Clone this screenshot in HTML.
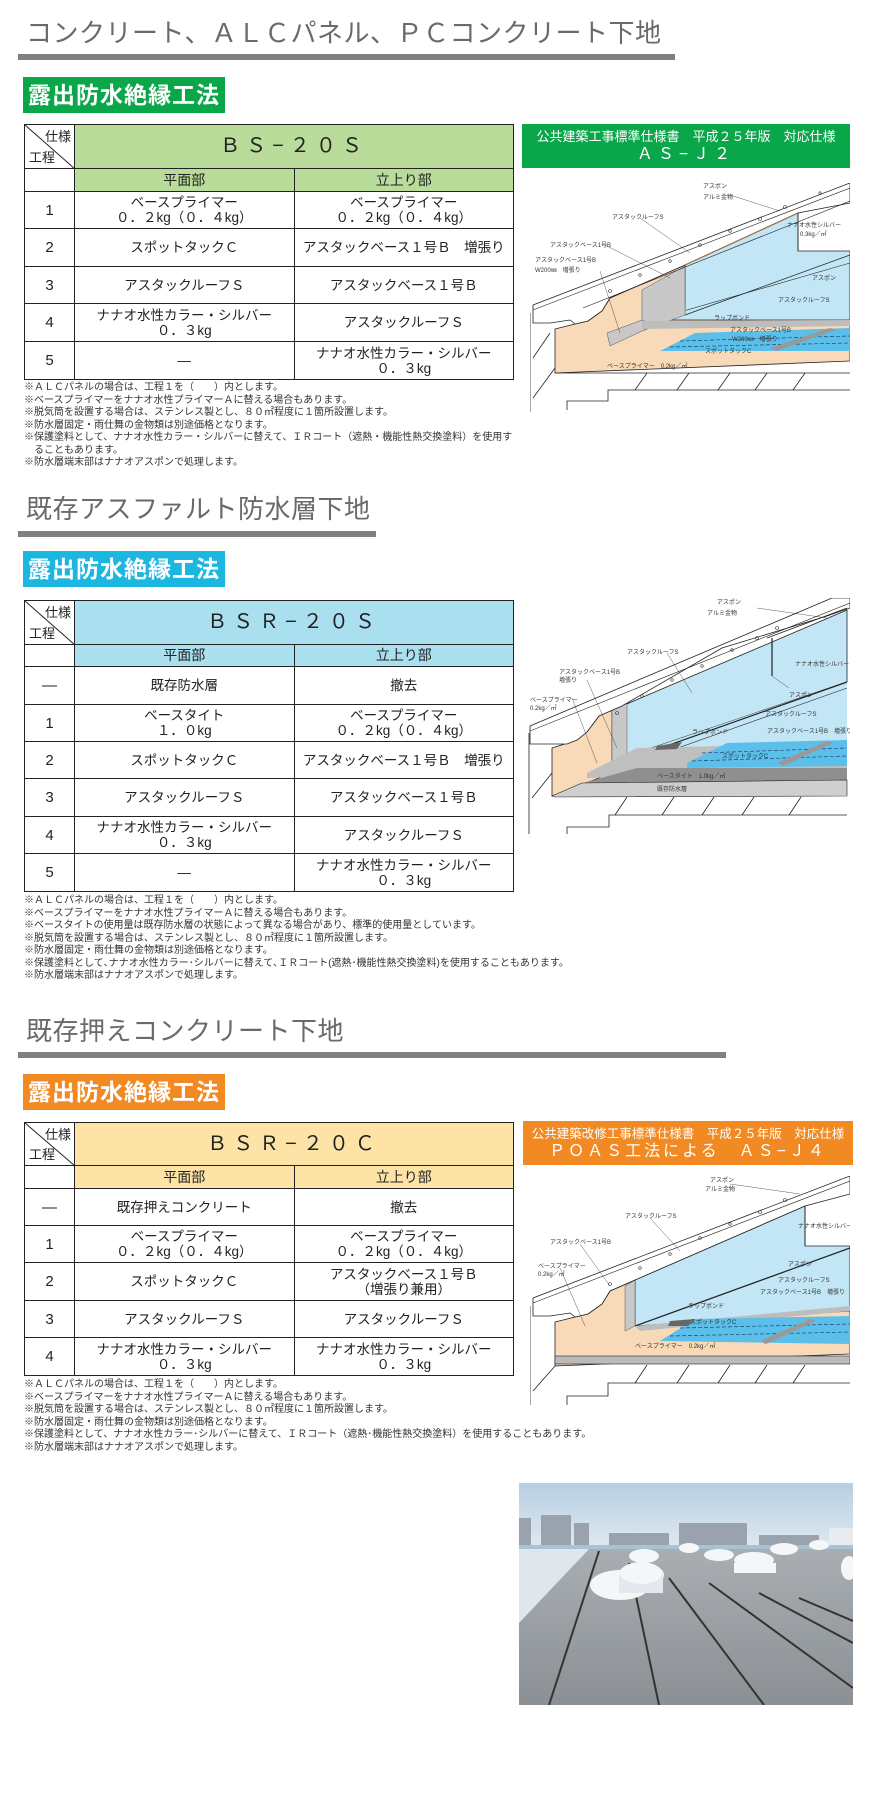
<!DOCTYPE html>
<html><head><meta charset="utf-8">
<style>
*{margin:0;padding:0;box-sizing:border-box}
body{width:880px;height:1800px;background:#fff;position:relative;font-family:"Liberation Sans","Noto Sans CJK JP",sans-serif;color:#222;overflow:hidden}
.ttl{position:absolute;left:26px;font-size:26px;color:#6a6a6a;letter-spacing:0.5px;white-space:nowrap;line-height:30px}
.bar{position:absolute;left:18px;height:6px;background:#808080}
.lbl{position:absolute;left:23px;width:202px;height:36px;color:#fff;font-weight:bold;font-size:23px;line-height:36px;text-align:center;letter-spacing:1px}
table{position:absolute;left:24px;width:490px;border-collapse:collapse;table-layout:fixed}
td{border:1.5px solid #222;text-align:center;font-size:13.5px;line-height:15px;padding:0;position:relative}
td.c0{width:50px;font-size:15px}
.hd{font-size:20px;letter-spacing:6px}
.sub{font-size:14px}
.corner{padding:0}
.corner svg{position:absolute;left:0;top:0}
.corner .a{position:absolute;right:3px;top:4px;font-size:13px}
.corner .b{position:absolute;left:4px;bottom:3px;font-size:13px}
.notes{position:absolute;left:24px;font-size:10px;line-height:12.5px;color:#333;white-space:nowrap}
.box{position:absolute;color:#fff;text-align:center;font-size:13px;line-height:18px;padding-top:4px}
.box b{font-weight:normal;font-size:16px;letter-spacing:5px}
.dg{position:absolute}
.dg text{font-family:"Liberation Sans","Noto Sans CJK JP",sans-serif;font-size:6px;fill:#333}
</style></head><body>

<!-- Section 1 -->
<div class="ttl" style="top:18px">コンクリート、ＡＬＣパネル、ＰＣコンクリート下地</div>
<div class="bar" style="top:54px;width:657px"></div>
<div class="lbl" style="top:77px;background:#0aa64a">露出防水絶縁工法</div>
<table style="top:124px">
<tr style="height:44px"><td class="c0 corner"><svg width="50" height="44"><line x1="0" y1="0" x2="50" y2="44" stroke="#222" stroke-width="1"/></svg><span class="a">仕様</span><span class="b">工程</span></td><td colspan="2" class="hd" style="background:#b9dc9a">ＢＳ−２０Ｓ</td></tr>
<tr style="height:23px"><td class="c0"></td><td class="sub" style="background:#b9dc9a">平面部</td><td class="sub" style="background:#b9dc9a">立上り部</td></tr>
<tr style="height:37px"><td class="c0">1</td><td>ベースプライマー<br>０．２kg（０．４kg）</td><td>ベースプライマー<br>０．２kg（０．４kg）</td></tr>
<tr style="height:38px"><td class="c0">2</td><td>スポットタックＣ</td><td>アスタックベース１号Ｂ　増張り</td></tr>
<tr style="height:37px"><td class="c0">3</td><td>アスタックルーフＳ</td><td>アスタックベース１号Ｂ</td></tr>
<tr style="height:38px"><td class="c0">4</td><td>ナナオ水性カラー・シルバー<br>０．３kg</td><td>アスタックルーフＳ</td></tr>
<tr style="height:38px"><td class="c0">5</td><td>—</td><td>ナナオ水性カラー・シルバー<br>０．３kg</td></tr>
</table>
<div class="notes" style="top:382px">※ＡＬＣパネルの場合は、工程１を（　　）内とします。<br>※ベースプライマーをナナオ水性プライマーＡに替える場合もあります。<br>※脱気筒を設置する場合は、ステンレス製とし、８０㎡程度に１箇所設置します。<br>※防水層固定・雨仕舞の金物類は別途価格となります。<br>※保護塗料として、ナナオ水性カラー・シルバーに替えて、ＩＲコート（遮熱・機能性熱交換塗料）を使用す<br>　ることもあります。<br>※防水層端末部はナナオアスポンで処理します。</div>
<div class="box" style="left:522px;top:124px;width:328px;height:44px;background:#0aa64a">公共建築工事標準仕様書　平成２５年版　対応仕様<br><b>ＡＳ−Ｊ２</b></div>

<svg class="dg" style="left:530px;top:183px" width="320" height="232" viewBox="0 0 320 232">
<polygon points="25,146 45,141 58,138 72,128 80,115 155,82 155,132 320,72 320,178 25,190" fill="#f8d9b8" stroke="#222" stroke-width="0.8"/>
<polygon points="155,82 268,30 268,68 320,68 320,137 122,137 155,125" fill="#c3e6f6" stroke="#222" stroke-width="0.8"/>
<line x1="155" y1="132" x2="320" y2="72" stroke="#222" stroke-width="0.8"/>
<line x1="112" y1="140" x2="320" y2="80" stroke="#222" stroke-width="0.6"/>
<polygon points="112,107 155,83 155,132 112,148" fill="#c8c8c8" stroke="#555" stroke-width="0.5"/>
<polygon points="77,150 112,137 125,142 80,163" fill="#c8c8c8" stroke="#555" stroke-width="0.5"/>
<polygon points="112,138 320,137 320,143 112,146" fill="#bdbdbd"/>
<polygon points="130,168 165,150 320,145 320,168" fill="#5bbfe9"/>
<g stroke="#1a4a7a" stroke-width="0.7" stroke-dasharray="4,2"><line x1="150" y1="158" x2="320" y2="153"/><line x1="140" y1="164" x2="320" y2="160"/></g>
<polygon points="240,165 300,145 306,147 246,168" fill="#999"/>
<polygon points="150,67 175,66 168,72" fill="#666"/>
<polygon points="3,122 320,0 320,20 268,30 155,82 80,115 72,128 58,138 45,141 40,137 20,140 3,140" fill="#fff" stroke="#222" stroke-width="0.8"/>
<line x1="3" y1="127" x2="320" y2="5" stroke="#222" stroke-width="0.6"/>
<line x1="53" y1="125" x2="320" y2="18" stroke="#222" stroke-width="0.6"/>
<line x1="155" y1="82" x2="268" y2="30" stroke="#a07040" stroke-width="1.2"/>
<g fill="none" stroke="#333" stroke-width="0.6"><circle cx="80" cy="108" r="1.5"/><circle cx="110" cy="92" r="1.3"/><circle cx="140" cy="78" r="1.3"/><circle cx="170" cy="62" r="1.3"/><circle cx="200" cy="48" r="1.3"/><circle cx="230" cy="36" r="1.5"/><circle cx="255" cy="24" r="1.5"/><circle cx="290" cy="10" r="1.2"/></g>
<line x1="268" y1="30" x2="268" y2="68" stroke="#222" stroke-width="0.8"/>
<g stroke="#222" stroke-width="0.8"><line x1="25" y1="190" x2="320" y2="190"/><polyline fill="none" points="320,207 78,207 78,218 37,218 37,227"/><line x1="105" y1="207" x2="117" y2="190"/><line x1="147" y1="207" x2="159" y2="190"/><line x1="188" y1="207" x2="200" y2="190"/><line x1="225" y1="207" x2="237" y2="190"/><line x1="263" y1="207" x2="275" y2="190"/><line x1="0" y1="130" x2="0" y2="229"/><line x1="3" y1="175" x2="20" y2="150"/><line x1="3" y1="215" x2="25" y2="185"/></g>
<g stroke="#333" stroke-width="0.4"><line x1="110" y1="35" x2="160" y2="70"/><line x1="75" y1="62" x2="140" y2="95"/><line x1="70" y1="88" x2="90" y2="150"/><line x1="200" y1="12" x2="250" y2="28"/></g>
<text x="173" y="5">アスポン</text><text x="173" y="16">アルミ金物</text>
<text x="82" y="36">アスタックルーフS</text><text x="20" y="64">アスタックベース1号B</text>
<text x="5" y="79">アスタックベース1号B</text><text x="5" y="89">W200㎜　増張り</text>
<text x="257" y="44">ナナオ水性シルバー</text><text x="270" y="53">0.3kg／㎡</text>
<text x="282" y="97">アスポン</text><text x="248" y="119">アスタックルーフS</text>
<text x="184" y="137">ラップボンド</text><text x="200" y="149">アスタックベース1号B</text><text x="202" y="158">W200㎜　増張り</text><text x="175" y="170">スポットタックC</text>
<text x="77" y="185">ベースプライマー　0.2kg／㎡</text>
</svg>

<!-- Section 2 -->
<div class="ttl" style="top:494px">既存アスファルト防水層下地</div>
<div class="bar" style="top:531px;width:358px"></div>
<div class="lbl" style="top:551px;background:#1cb7e0">露出防水絶縁工法</div>
<table style="top:600px">
<tr style="height:44px"><td class="c0 corner"><svg width="50" height="44"><line x1="0" y1="0" x2="50" y2="44" stroke="#222" stroke-width="1"/></svg><span class="a">仕様</span><span class="b">工程</span></td><td colspan="2" class="hd" style="background:#a9dfef">ＢＳＲ−２０Ｓ</td></tr>
<tr style="height:22px"><td class="c0"></td><td class="sub" style="background:#a9dfef">平面部</td><td class="sub" style="background:#a9dfef">立上り部</td></tr>
<tr style="height:38px"><td class="c0">—</td><td>既存防水層</td><td>撤去</td></tr>
<tr style="height:37px"><td class="c0">1</td><td>ベースタイト<br>１．０kg</td><td>ベースプライマー<br>０．２kg（０．４kg）</td></tr>
<tr style="height:37px"><td class="c0">2</td><td>スポットタックＣ</td><td>アスタックベース１号Ｂ　増張り</td></tr>
<tr style="height:38px"><td class="c0">3</td><td>アスタックルーフＳ</td><td>アスタックベース１号Ｂ</td></tr>
<tr style="height:37px"><td class="c0">4</td><td>ナナオ水性カラー・シルバー<br>０．３kg</td><td>アスタックルーフＳ</td></tr>
<tr style="height:38px"><td class="c0">5</td><td>—</td><td>ナナオ水性カラー・シルバー<br>０．３kg</td></tr>
</table>
<div class="notes" style="top:895px">※ＡＬＣパネルの場合は、工程１を（　　）内とします。<br>※ベースプライマーをナナオ水性プライマーＡに替える場合もあります。<br>※ベースタイトの使用量は既存防水層の状態によって異なる場合があり、標準的使用量としています。<br>※脱気筒を設置する場合は、ステンレス製とし、８０㎡程度に１箇所設置します。<br>※防水層固定・雨仕舞の金物類は別途価格となります。<br>※保護塗料として､ナナオ水性カラー･シルバーに替えて､ＩＲコート(遮熱･機能性熱交換塗料)を使用することもあります。<br>※防水層端末部はナナオアスポンで処理します。</div>

<svg class="dg" style="left:527px;top:598px" width="323" height="238" viewBox="0 0 323 238">
<polygon points="25,150 50,142 60,134 72,118 85,110 85,175 25,198" fill="#f8d9b8" stroke="#222" stroke-width="0.8"/>
<polygon points="85,110 85,160 ..." fill="none"/>
<polygon points="95,108 320,12 320,84 95,160" fill="#c3e6f6" stroke="#222" stroke-width="0.8"/>
<polygon points="95,160 320,84 320,170 60,175" fill="#c3e6f6"/>
<polygon points="85,112 100,105 100,162 85,168" fill="#c8c8c8" stroke="#555" stroke-width="0.5"/>
<line x1="100" y1="162" x2="320" y2="84" stroke="#222" stroke-width="1.2"/>
<line x1="100" y1="168" x2="320" y2="90" stroke="#222" stroke-width="0.6"/>
<polygon points="60,175 110,150 320,145 320,173 60,180" fill="#bfbfbf"/>
<polygon points="160,165 200,145 320,142 320,168 160,170" fill="#5bbfe9"/>
<g stroke="#1a4a7a" stroke-width="0.7" stroke-dasharray="4,2"><line x1="175" y1="155" x2="320" y2="150"/><line x1="165" y1="163" x2="320" y2="158"/></g>
<polygon points="250,165 300,143 306,145 256,168" fill="#999"/>
<polygon points="130,148 155,144 150,151 128,152" fill="#666"/>
<polygon points="45,188 110,170 320,170 320,182 55,185" fill="#8f8f8f"/>
<polygon points="25,198 55,185 320,182 320,198 28,199" fill="#cfcfcf" stroke="#222" stroke-width="0.6"/>
<polygon points="3,128 305,0 323,0 323,10 300,18 195,50 95,108 72,118 60,134 50,142 40,146 20,146 3,146" fill="#fff" stroke="#222" stroke-width="0.8"/>
<line x1="3" y1="133" x2="323" y2="5" stroke="#222" stroke-width="0.6"/>
<line x1="240" y1="40" x2="320" y2="10" stroke="#222" stroke-width="0.8"/>
<line x1="245" y1="40" x2="245" y2="78" stroke="#222" stroke-width="1.2"/>
<g fill="none" stroke="#333" stroke-width="0.6"><circle cx="90" cy="115" r="1.5"/><circle cx="115" cy="98" r="1.3"/><circle cx="145" cy="82" r="1.3"/><circle cx="175" cy="68" r="1.3"/><circle cx="205" cy="52" r="1.3"/><circle cx="230" cy="40" r="1.5"/><circle cx="250" cy="30" r="1.5"/></g>
<g stroke="#222" stroke-width="0.8"><polyline fill="none" points="320,217 82,217 82,229 40,229 40,236"/><line x1="88" y1="217" x2="100" y2="199"/><line x1="135" y1="217" x2="147" y2="199"/><line x1="175" y1="217" x2="187" y2="199"/><line x1="215" y1="217" x2="227" y2="199"/><line x1="262" y1="217" x2="274" y2="199"/><line x1="2" y1="135" x2="2" y2="236"/><line x1="5" y1="200" x2="25" y2="175"/></g>
<g stroke="#333" stroke-width="0.4"><line x1="140" y1="55" x2="165" y2="95"/><line x1="60" y1="82" x2="90" y2="150"/><line x1="45" y1="100" x2="70" y2="165"/><line x1="230" y1="10" x2="300" y2="20"/><line x1="245" y1="78" x2="262" y2="90"/></g>
<text x="190" y="6">アスポン</text><text x="180" y="17">アルミ金物</text>
<text x="100" y="56">アスタックルーフS</text><text x="32" y="76">アスタックベース1号B</text><text x="32" y="84">増張り</text>
<text x="3" y="104">ベースプライマー</text><text x="3" y="112">0.2kg／㎡</text>
<text x="268" y="68">ナナオ水性シルバー</text><text x="262" y="99">アスポン</text>
<text x="238" y="118">アスタックルーフS</text><text x="165" y="136">ラップボンド</text><text x="240" y="135">アスタックベース1号B　増張り</text>
<text x="195" y="160">スポットタックC</text><text x="130" y="180">ベースタイト　1.0kg／㎡</text><text x="130" y="193">既存防水層</text>
</svg>

<!-- Section 3 -->
<div class="ttl" style="top:1016px">既存押えコンクリート下地</div>
<div class="bar" style="top:1052px;width:708px"></div>
<div class="lbl" style="top:1074px;background:#f18a23">露出防水絶縁工法</div>
<table style="top:1122px">
<tr style="height:43px"><td class="c0 corner"><svg width="50" height="43"><line x1="0" y1="0" x2="50" y2="43" stroke="#222" stroke-width="1"/></svg><span class="a">仕様</span><span class="b">工程</span></td><td colspan="2" class="hd" style="background:#fde3a6">ＢＳＲ−２０Ｃ</td></tr>
<tr style="height:23px"><td class="c0"></td><td class="sub" style="background:#fde3a6">平面部</td><td class="sub" style="background:#fde3a6">立上り部</td></tr>
<tr style="height:37px"><td class="c0">—</td><td>既存押えコンクリート</td><td>撤去</td></tr>
<tr style="height:37px"><td class="c0">1</td><td>ベースプライマー<br>０．２kg（０．４kg）</td><td>ベースプライマー<br>０．２kg（０．４kg）</td></tr>
<tr style="height:38px"><td class="c0">2</td><td>スポットタックＣ</td><td>アスタックベース１号Ｂ<br>（増張り兼用）</td></tr>
<tr style="height:37px"><td class="c0">3</td><td>アスタックルーフＳ</td><td>アスタックルーフＳ</td></tr>
<tr style="height:38px"><td class="c0">4</td><td>ナナオ水性カラー・シルバー<br>０．３kg</td><td>ナナオ水性カラー・シルバー<br>０．３kg</td></tr>
</table>
<div class="notes" style="top:1379px">※ＡＬＣパネルの場合は、工程１を（　　）内とします。<br>※ベースプライマーをナナオ水性プライマーＡに替える場合もあります。<br>※脱気筒を設置する場合は、ステンレス製とし、８０㎡程度に１箇所設置します。<br>※防水層固定・雨仕舞の金物類は別途価格となります。<br>※保護塗料として、ナナオ水性カラー･シルバーに替えて、ＩＲコート（遮熱･機能性熱交換塗料）を使用することもあります。<br>※防水層端末部はナナオアスポンで処理します。</div>
<div class="box" style="left:523px;top:1121px;width:330px;height:44px;background:#f18a23;font-size:12.5px">公共建築改修工事標準仕様書　平成２５年版　対応仕様<br><b style="letter-spacing:3px">ＰＯＡＳ工法による　ＡＳ−Ｊ４</b></div>

<svg class="dg" style="left:530px;top:1176px" width="320" height="230" viewBox="0 0 320 230">
<polygon points="25,146 45,141 58,138 72,128 80,115 105,104 105,150 320,110 320,178 25,190" fill="#f8d9b8" stroke="#222" stroke-width="0.8"/>
<polygon points="105,104 275,30 275,70 320,70 320,135 105,150" fill="#c3e6f6" stroke="#222" stroke-width="0.8"/>
<line x1="105" y1="150" x2="320" y2="72" stroke="#222" stroke-width="1.2"/>
<polygon points="95,110 105,104 105,150 95,155" fill="#c8c8c8" stroke="#555" stroke-width="0.5"/>
<polygon points="105,150 320,130 320,135 110,155" fill="#bdbdbd"/>
<polygon points="130,165 165,143 320,140 320,168" fill="#5bbfe9"/>
<g stroke="#1a4a7a" stroke-width="0.7" stroke-dasharray="4,2"><line x1="150" y1="152" x2="320" y2="148"/><line x1="140" y1="160" x2="320" y2="156"/></g>
<polygon points="230,165 280,143 286,145 236,168" fill="#999"/>
<polygon points="140,145 165,143 158,150 138,150" fill="#666"/>
<polygon points="3,122 320,0 320,18 275,30 105,104 80,115 72,128 58,138 45,141 40,137 20,140 3,140" fill="#fff" stroke="#222" stroke-width="0.8"/>
<line x1="3" y1="127" x2="320" y2="5" stroke="#222" stroke-width="0.6"/>
<g fill="none" stroke="#333" stroke-width="0.6"><circle cx="80" cy="108" r="1.5"/><circle cx="110" cy="92" r="1.3"/><circle cx="140" cy="78" r="1.3"/><circle cx="170" cy="62" r="1.3"/><circle cx="200" cy="48" r="1.3"/><circle cx="230" cy="36" r="1.5"/><circle cx="255" cy="24" r="1.5"/></g>
<line x1="275" y1="30" x2="275" y2="70" stroke="#222" stroke-width="1"/>
<rect x="25" y="180" width="295" height="8" fill="#bbb" stroke="#222" stroke-width="0.6"/>
<g stroke="#222" stroke-width="0.8"><polyline fill="none" points="320,207 78,207 78,220 37,220 37,229"/><line x1="105" y1="207" x2="117" y2="189"/><line x1="147" y1="207" x2="159" y2="189"/><line x1="188" y1="207" x2="200" y2="189"/><line x1="225" y1="207" x2="237" y2="189"/><line x1="263" y1="207" x2="275" y2="189"/><line x1="0" y1="130" x2="0" y2="229"/><line x1="3" y1="215" x2="25" y2="190"/></g>
<g stroke="#333" stroke-width="0.4"><line x1="120" y1="42" x2="150" y2="75"/><line x1="50" y1="68" x2="80" y2="110"/><line x1="30" y1="92" x2="55" y2="150"/><line x1="200" y1="8" x2="270" y2="18"/></g>
<text x="180" y="6">アスポン</text><text x="175" y="15">アルミ金物</text>
<text x="95" y="42">アスタックルーフS</text><text x="20" y="68">アスタックベース1号B</text>
<text x="8" y="92">ベースプライマー</text><text x="8" y="100">0.2kg／㎡</text>
<text x="268" y="52">ナナオ水性シルバー</text><text x="258" y="90">アスポン</text>
<text x="248" y="106">アスタックルーフS</text><text x="230" y="118">アスタックベース1号B　増張り</text>
<text x="158" y="132">ラップボンド</text><text x="160" y="148">スポットタックC</text><text x="105" y="172">ベースプライマー　0.2kg／㎡</text>
</svg>

<!-- Photo -->
<svg style="position:absolute;left:519px;top:1483px" width="334" height="222" viewBox="0 0 334 222">
<defs><linearGradient id="sky" x1="0" y1="0" x2="0" y2="1"><stop offset="0" stop-color="#b7cfe3"/><stop offset="1" stop-color="#dfe8ef"/></linearGradient>
<linearGradient id="roof" x1="0" y1="0" x2="0" y2="1"><stop offset="0" stop-color="#a9aeb2"/><stop offset="1" stop-color="#8b9094"/></linearGradient></defs>
<rect width="334" height="65" fill="url(#sky)"/>
<g fill="#9aa3ad"><rect x="0" y="35" width="12" height="30"/><rect x="22" y="32" width="30" height="33"/><rect x="55" y="40" width="15" height="25"/><rect x="160" y="40" width="68" height="25"/><rect x="90" y="50" width="60" height="15"/><rect x="240" y="52" width="60" height="13"/></g>
<rect x="310" y="45" width="24" height="20" fill="#e8ecef"/>
<rect x="0" y="62" width="334" height="4" fill="#a8c2d6"/>
<polygon points="0,66 70,66 0,140" fill="#dfe6ec"/>
<polygon points="70,66 334,66 334,222 0,222 0,140" fill="url(#roof)"/>
<g stroke="#333" stroke-width="2" fill="none"><line x1="80" y1="68" x2="30" y2="222"/><line x1="110" y1="80" x2="140" y2="222"/><line x1="150" y1="95" x2="245" y2="222"/><line x1="190" y1="100" x2="334" y2="205"/><line x1="240" y1="110" x2="334" y2="160"/><line x1="280" y1="115" x2="334" y2="138"/></g>
<g fill="#f4f6f8"><ellipse cx="101" cy="102" rx="30" ry="15"/><rect x="100" y="95" width="44" height="14"/><ellipse cx="122" cy="92" rx="23" ry="12"/><rect x="100" y="92" width="44" height="18" fill="#e3e9ee"/><ellipse cx="122" cy="90" rx="21" ry="11"/><ellipse cx="125" cy="73" rx="15" ry="7"/><ellipse cx="200" cy="72" rx="15" ry="6"/><ellipse cx="235" cy="77" rx="20" ry="8"/><rect x="215" y="80" width="42" height="10"/><ellipse cx="170" cy="65" rx="10" ry="5"/><ellipse cx="265" cy="66" rx="14" ry="6"/><ellipse cx="300" cy="62" rx="10" ry="5"/><ellipse cx="330" cy="85" rx="8" ry="12"/></g>
</svg>
</body></html>
